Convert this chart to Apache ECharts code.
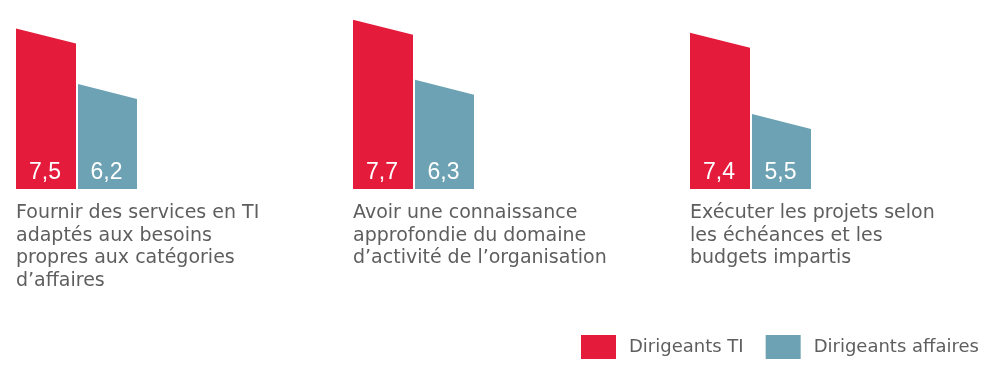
<!DOCTYPE html>
<html>
<head>
<meta charset="utf-8">
<style>
html,body{margin:0;padding:0;background:#fff;}
#chart{width:1000px;height:380px;}
</style>
<script src="https://cdn.jsdelivr.net/npm/echarts@6/dist/echarts.min.js"></script>
</head>
<body>
<div id="chart"></div>
<script>
const categories = [
  "Fournir des services en TI\nadaptés aux besoins\npropres aux catégories\nd’affaires",
  "Avoir une connaissance\napprofondie du domaine\nd’activité de l’organisation",
  "Exécuter les projets selon\nles échéances et les\nbudgets impartis"
];
const seriesNames = ["Dirigeants TI", "Dirigeants affaires"];
const itValues = [7.5, 7.7, 7.4];
const businessValues = [6.2, 6.3, 5.5];
const colors = ["#E51B3C", "#6CA2B3"];

const Y_MIN = 4.1, Y_MAX = 8.0;
const BAR_W = 60, BAR_GAP = 2, SLANT = 15;

function makeRender(seriesIdx) {
  return function (params, api) {
    const cat = api.value(0);
    const val = api.value(1);
    const top = api.coord([cat, val]);
    const base = api.coord([cat, Y_MIN]);
    const xL = top[0] + seriesIdx * (BAR_W + BAR_GAP);
    const w = seriesIdx === 0 ? BAR_W : BAR_W - 1;
    const xR = xL + w;
    return {
      type: 'group',
      children: [
        {
          type: 'polygon',
          shape: { points: [[xL, top[1] - SLANT], [xR, top[1]], [xR, base[1]], [xL, base[1]]] },
          style: { fill: colors[seriesIdx] }
        },
        {
          type: 'text',
          style: {
            text: val.toFixed(1).replace('.', ','),
            x: xL + w / 2 - 1,
            y: base[1] - 16,
            align: 'center',
            verticalAlign: 'middle',
            fill: '#ffffff',
            fontSize: 23,
            fontFamily: 'Liberation Sans'
          }
        }
      ]
    };
  };
}

const chart = echarts.init(document.getElementById('chart'), null, { renderer: 'canvas' });
chart.setOption({
  backgroundColor: '#ffffff',
  animation: false,
  grid: { left: 16, right: 310, top: 22, bottom: 191, containLabel: false, outerBoundsMode: 'none' },
  xAxis: {
    type: 'category',
    data: categories,
    boundaryGap: false,
    axisLine: { show: false },
    axisTick: { show: false },
    splitLine: { show: false },
    axisLabel: {
      interval: 0,
      align: 'left',
      margin: 13,
      color: '#5e5e5e',
      fontSize: 19,
      lineHeight: 22.5,
      fontFamily: 'DejaVu Sans'
    }
  },
  yAxis: { type: 'value', min: Y_MIN, max: Y_MAX, show: false, splitLine: { show: false } },
  legend: {
    left: 581,
    top: 335,
    padding: 0,
    itemWidth: 35,
    itemHeight: 24,
    itemGap: 22,
    icon: 'rect',
    textStyle: { color: '#5e5e5e', fontSize: 18, fontFamily: 'DejaVu Sans', padding: [0, 0, 0, 8] },
    data: seriesNames
  },
  series: [
    {
      name: seriesNames[0],
      type: 'custom',
      itemStyle: { color: colors[0] },
      renderItem: makeRender(0),
      encode: { x: 0, y: 1 },
      data: itValues.map((v, i) => [i, v])
    },
    {
      name: seriesNames[1],
      type: 'custom',
      itemStyle: { color: colors[1] },
      renderItem: makeRender(1),
      encode: { x: 0, y: 1 },
      data: businessValues.map((v, i) => [i, v])
    }
  ]
});
</script>
</body>
</html>
